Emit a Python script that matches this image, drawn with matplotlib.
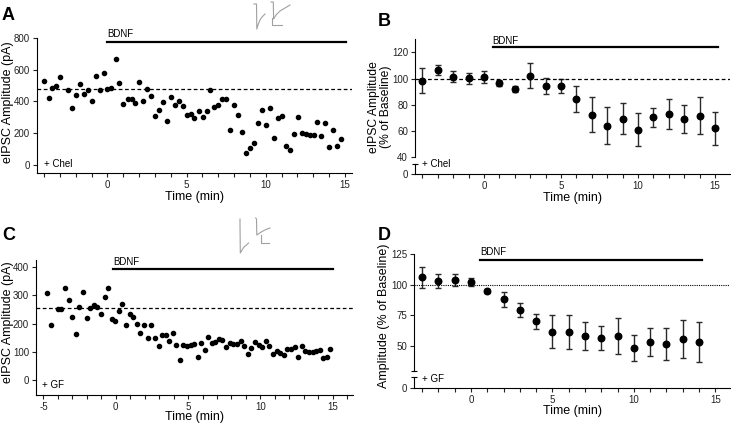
import matplotlib
matplotlib.use('Agg')
import matplotlib.pyplot as plt

plt.rcParams['font.family'] = ['Liberation Sans', 'DejaVu Sans']

# Donnees panneau A (eIPSC individuel, + Chel)
temps_a = [-4.0, -3.71, -3.48, -3.22, -2.97, -2.49, -2.23, -1.98, -1.73, -1.47,
           -1.24, -0.99, -0.73, -0.48, -0.23, 0.0, 0.25, 0.51, 0.74, 1.01,
           1.27, 1.52, 1.75, 2.0, 2.26, 2.51, 2.76, 2.99, 3.25, 3.5,
           3.76, 4.01, 4.26, 4.51, 4.77, 5.02, 5.25, 5.5, 5.76, 6.01,
           6.27, 6.5, 6.75, 7.0, 7.26, 7.51, 7.76, 8.02, 8.27, 8.5,
           8.76, 9.01, 9.27, 9.52, 9.77, 10.03, 10.26, 10.51, 10.77, 11.02,
           11.28, 11.53, 11.76, 12.02, 12.27, 12.53, 12.78, 13.03, 13.26, 13.51,
           13.77, 14.02, 14.27, 14.53, 14.76]
ampl_a = [530, 421, 484, 497, 550, 469, 360, 442, 510, 448,
          469, 400, 558, 474, 579, 478, 484, 665, 514, 383,
          417, 417, 387, 522, 400, 478, 434, 305, 345, 398,
          276, 430, 377, 402, 373, 312, 320, 295, 337, 303,
          337, 469, 366, 379, 415, 413, 217, 379, 312, 208,
          76, 109, 137, 261, 345, 248, 356, 168, 293, 310,
          122, 95, 196, 299, 198, 192, 185, 185, 272, 181,
          265, 114, 217, 120, 164]
base_a = 478

# Donnees panneau B (moyenne normalisee, + Chel)
temps_b = [-4, -3, -2, -1, 0, 1, 2, 3, 4, 5, 6, 7, 8, 9, 10, 11, 12, 13, 14, 15]
moy_b = [98.5, 106.6, 101.5, 100.3, 101.0, 96.7, 91.9, 102.3, 94.4, 94.4,
         84.5, 72.6, 64.2, 69.5, 61.2, 70.5, 73.1, 69.3, 71.8, 62.2]
sem_b = [9.6, 4.1, 4.0, 4.3, 4.6, 2.0, 2.1, 9.4, 6.1, 5.6,
         10.0, 13.6, 14.2, 12.0, 12.6, 7.4, 11.7, 10.4, 14.0, 12.7]

# Donnees panneau C (eIPSC individuel, + GF)
temps_c = [-4.75, -4.49, -4.01, -3.76, -3.5, -3.25, -3.02, -2.76, -2.52, -2.26,
           -2.0, -1.76, -1.52, -1.27, -1.02, -0.76, -0.51, -0.28, -0.03, 0.21,
           0.46, 0.71, 0.97, 1.22, 1.47, 1.7, 1.96, 2.21, 2.46, 2.72,
           2.97, 3.2, 3.46, 3.7, 3.96, 4.17, 4.42, 4.67, 4.93, 5.18,
           5.41, 5.67, 5.92, 6.17, 6.4, 6.63, 6.88, 7.14, 7.37, 7.62,
           7.88, 8.13, 8.38, 8.64, 8.89, 9.14, 9.37, 9.63, 9.88, 10.13,
           10.39, 10.62, 10.87, 11.13, 11.35, 11.61, 11.86, 12.11, 12.37, 12.6,
           12.85, 13.1, 13.36, 13.61, 13.84, 14.1, 14.35, 14.6, 14.83]
ampl_c = [307, 195, 251, 252, 325, 284, 223, 164, 258, 310,
          219, 255, 264, 258, 234, 294, 325, 217, 208, 246,
          269, 195, 233, 222, 200, 168, 196, 148, 196, 148,
          122, 160, 161, 137, 167, 125, 71, 124, 122, 125,
          126, 80, 132, 105, 154, 130, 134, 144, 143, 117,
          132, 129, 126, 137, 121, 91, 112, 134, 124, 116,
          139, 119, 93, 104, 97, 89, 109, 109, 116, 82,
          122, 104, 100, 98, 103, 105, 79, 80, 111]
base_c = 254

# Donnees panneau D (moyenne normalisee, + GF)
temps_d = [-3, -2, -1, 0, 1, 2, 3, 4, 5, 6, 7, 8, 9, 10, 11, 12, 13, 14]
moy_d = [106.0, 103.0, 103.8, 102.4, 94.6, 88.0, 79.3, 70.1, 61.7, 61.1,
         58.4, 56.3, 58.4, 48.1, 53.3, 51.6, 56.0, 53.3]
sem_d = [8.7, 6.0, 4.8, 3.3, 1.7, 6.4, 6.0, 6.2, 13.2, 13.9,
         11.4, 9.7, 14.7, 10.6, 11.5, 12.8, 15.6, 16.2]

# Traces d'exemple (coordonnees en pixels de la figure)
trace_a1_x = [254, 256.5, 256.8, 258, 260, 262, 265]
trace_a1_y = [4, 4, 29, 25, 20, 17, 14]
trace_a2_x = [271, 273.3, 273.6, 276, 280, 285, 290]
trace_a2_y = [2, 2, 19, 15, 11, 8, 5]
echelle_a_x = [272.3, 272.3, 282]
echelle_a_y = [18.5, 25, 25]
trace_c1_x = [240, 240, 240.3, 242, 244, 246.5, 248.5]
trace_c1_y = [219, 224, 253, 250, 247, 245, 243]
trace_c2_x = [255.7, 256.5, 256.8, 259, 262, 266, 270]
trace_c2_y = [218, 219, 235, 233.5, 231.5, 229.5, 228]
echelle_c_x = [261, 261, 269.3]
echelle_c_y = [235, 243.3, 243.3]

# Constantes de mise en page
__L, __H = 731, 423
__TAILLE_TICK = 7
__TAILLE_LABEL = 9
__GRIS_TRACE = '#a0a0a0'

fig = plt.figure(figsize=(__L / 100, __H / 100), dpi=100)


def axes_px(gauche, haut, droite, bas):
    """Cree des axes a partir d'une boite en pixels."""
    return fig.add_axes([gauche / __L, 1 - bas / __H, (droite - gauche) / __L, (bas - haut) / __H])


def styler(ax, bas=True):
    ax.spines['top'].set_visible(False)
    ax.spines['right'].set_visible(False)
    ax.spines['left'].set_linewidth(0.8)
    ax.spines['bottom'].set_linewidth(0.8)
    if not bas:
        ax.spines['bottom'].set_visible(False)
        ax.tick_params(axis='x', bottom=False, labelbottom=False)
    ax.tick_params(direction='out', length=3, width=0.8, labelsize=__TAILLE_TICK,
                   pad=2, colors='#222222')
    ax.patch.set_alpha(0)


def ticks_x(ax, debut, fin):
    ticks = list(range(debut, fin + 1))
    ax.set_xticks(ticks)
    ax.set_xticklabels([str(t) if t % 5 == 0 else '' for t in ticks])


def barre_bdnf(ax, x0, x1, y, y_texte):
    ax.plot([x0, x1], [y, y], color='k', lw=1.6, clip_on=False)
    ax.text(x0, y_texte, 'BDNF', fontsize=7, va='center', ha='left', clip_on=False)


# ---------------- Panneau A ----------------
ax_a = axes_px(36.7, 37.7, 351.5, 172.7)
styler(ax_a)
ax_a.plot(temps_a, ampl_a, 'o', ms=3.0, color='k', clip_on=False)
ax_a.axhline(base_a, color='k', lw=0.9, ls=(0, (3, 2)))
ax_a.set_xlim(-4.47, 15.42)
ax_a.set_ylim(-49, 800)
ax_a.set_yticks([0, 200, 400, 600, 800])
ticks_x(ax_a, -4, 15)
barre_bdnf(ax_a, 0, 15.1, 772, 821)
ax_a.text(-4.0, 6, '+ Chel', fontsize=7, va='center')
ax_a.set_xlabel('Time (min)', fontsize=__TAILLE_LABEL, labelpad=1)

# ---------------- Panneau B ----------------
ax_b = axes_px(415, 39.3, 730, 157.3)
ax_b2 = axes_px(415, 164.3, 730, 174)
styler(ax_b, bas=False)
styler(ax_b2)
ax_b.errorbar(temps_b, moy_b, yerr=sem_b, fmt='o', ms=4.7, color='k', ecolor='#2a2a2a',
              elinewidth=1, capsize=2.2, capthick=1, clip_on=False)
ax_b.axhline(100, color='k', lw=0.9, ls=(0, (3, 2)))
for ax in (ax_b, ax_b2):
    ax.set_xlim(-4.48, 15.97)
ax_b.set_ylim(40, 130)
ax_b.set_yticks([40, 60, 80, 100, 120])
ax_b2.set_ylim(0, 7.4)
ax_b2.set_yticks([0])
ax_b2.plot(0, 1, marker='_', ms=5, mew=0.8, color='k', transform=ax_b2.transAxes, clip_on=False)
ticks_x(ax_b2, -4, 15)
barre_bdnf(ax_b, 0.56, 15.17, 124.1, 129)
ax_b2.text(-4.0, 7.4, '+ Chel', fontsize=7, va='center', clip_on=False)
ax_b2.set_xlabel('Time (min)', fontsize=__TAILLE_LABEL, labelpad=1)

# ---------------- Panneau C ----------------
ax_c = axes_px(36, 260, 352.7, 395)
styler(ax_c)
ax_c.plot(temps_c, ampl_c, 'o', ms=3.0, color='k', clip_on=False)
ax_c.axhline(base_c, color='k', lw=0.9, ls=(0, (3, 2)))
ax_c.set_xlim(-5.51, 16.38)
ax_c.set_ylim(-53, 425)
ax_c.set_yticks([0, 100, 200, 300, 400])
ticks_x(ax_c, -5, 16)
barre_bdnf(ax_c, -0.2, 15.0, 394, 417)
ax_c.text(-5.11, -18, '+ GF', fontsize=7, va='center')
ax_c.set_xlabel('Time (min)', fontsize=__TAILLE_LABEL, labelpad=-0.5)

# ---------------- Panneau D ----------------
ax_d = axes_px(414.3, 254, 730, 370.7)
ax_d2 = axes_px(414.3, 377.3, 730, 388.3)
styler(ax_d, bas=False)
styler(ax_d2)
ax_d.errorbar(temps_d, moy_d, yerr=sem_d, fmt='o', ms=4.7, color='k', ecolor='#2a2a2a',
              elinewidth=1, capsize=2.2, capthick=1, clip_on=False)
ax_d.axhline(100, color='k', lw=0.8, ls=(0, (1, 1)))
for ax in (ax_d, ax_d2):
    ax.set_xlim(-3.48, 15.9)
ax_d.set_ylim(29.9, 125)
ax_d.set_yticks([50, 75, 100, 125])
ax_d.plot(0, 0, marker='_', ms=5, mew=0.8, color='k', transform=ax_d.transAxes, clip_on=False)
ax_d2.set_ylim(0, 9)
ax_d2.set_yticks([0])
ax_d2.plot(0, 1, marker='_', ms=5, mew=0.8, color='k', transform=ax_d2.transAxes, clip_on=False)
ticks_x(ax_d2, -3, 15)
barre_bdnf(ax_d, 0.55, 14.2, 120.4, 126.6)
ax_d2.text(-3.0, 7.6, '+ GF', fontsize=7, va='center', clip_on=False)
ax_d2.set_xlabel('Time (min)', fontsize=__TAILLE_LABEL, labelpad=0)


# ---------------- Etiquettes des axes y ----------------
def texte_px(x, y, s, **kw):
    fig.text(x / __L, 1 - y / __H, s, **kw)


texte_px(8, 102, 'eIPSC Amplitude (pA)', fontsize=__TAILLE_LABEL, rotation=90, ha='center', va='center')
texte_px(380, 107, 'eIPSC Amplitude\n(% of Baseline)', fontsize=8.7, rotation=90,
         ha='center', va='center', linespacing=0.95)
texte_px(8, 322, 'eIPSC Amplitude (pA)', fontsize=__TAILLE_LABEL, rotation=90, ha='center', va='center')
texte_px(384, 316, 'Amplitude (% of Baseline)', fontsize=__TAILLE_LABEL, rotation=90, ha='center', va='center')

# Lettres des panneaux
for lettre, x, y in [('A', 2, 16), ('B', 378, 21), ('C', 2, 235), ('D', 378, 235)]:
    texte_px(x, y, lettre, fontsize=13, fontweight='bold', ha='left', va='center')

# ---------------- Traces d'exemple ----------------
ax_fond = fig.add_axes([0, 0, 1, 1])
ax_fond.set_xlim(0, __L)
ax_fond.set_ylim(__H, 0)
ax_fond.axis('off')
ax_fond.patch.set_alpha(0)
for xs, ys in [(trace_a1_x, trace_a1_y), (trace_a2_x, trace_a2_y), (echelle_a_x, echelle_a_y),
               (trace_c1_x, trace_c1_y), (trace_c2_x, trace_c2_y), (echelle_c_x, echelle_c_y)]:
    ax_fond.plot(xs, ys, color=__GRIS_TRACE, lw=0.8)

fig.savefig('out.png', dpi=100)
